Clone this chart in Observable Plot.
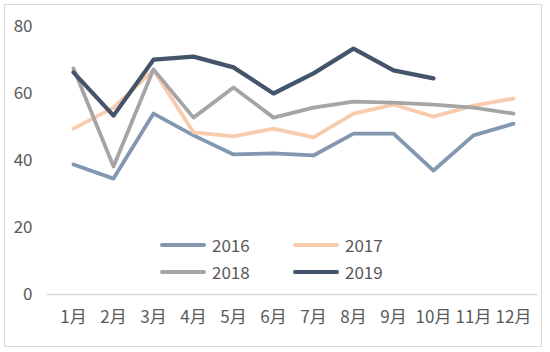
<!DOCTYPE html>
<html><head><meta charset="utf-8">
<script src="https://cdn.jsdelivr.net/npm/d3@7"></script>
<script src="https://cdn.jsdelivr.net/npm/@observablehq/plot@0.6"></script>
<style>
body{margin:0;background:#fff;}
#wrap{position:relative;width:550px;height:352px;font-family:"Noto Sans CJK SC","Noto Sans",sans-serif;}
#frame{position:absolute;left:4px;top:4px;width:538px;height:343px;border:1px solid #D9D9D9;box-sizing:border-box;}
#chart{position:absolute;left:0;top:0;}
.leg{position:absolute;display:flex;align-items:center;font-size:17px;color:#595959;line-height:20px;}
.leg span.sw{display:inline-block;width:46px;height:4px;border-radius:2px;margin-right:6px;}
</style></head>
<body><div id="wrap"><div id="frame"></div><div id="chart"></div><div id="legend"></div></div>
<script>
const months = ["1月","2月","3月","4月","5月","6月","7月","8月","9月","10月","11月","12月"];
const series = ["2016","2017","2018","2019"];
const colors = ["#8497B0","#F8CBAD","#A5A5A5","#44546A"];
const v2016 = [38.8,34.6,54.0,47.5,41.8,42.1,41.5,48.0,48.0,37.0,47.5,51.0];
const v2017 = [49.5,55.8,67.0,48.4,47.2,49.5,46.9,54.0,56.7,53.1,56.4,58.5];
const v2018 = [67.5,38.2,67.2,52.8,61.8,52.8,55.8,57.6,57.3,56.7,55.8,54.0];
const v2019 = [66.3,53.4,70.1,71.0,67.8,60.0,66.0,73.4,66.9,64.5];
const yTicks = [0,20,40,60,80];

const all = [v2016,v2017,v2018,v2019];
const rows = [];
series.forEach((s,i)=>all[i].forEach((v,j)=>rows.push({month:months[j],value:v,series:s})));

const chart = Plot.plot({
  width:550,height:352,
  marginTop:26,marginBottom:58,marginLeft:47,marginRight:12,
  style:{fontFamily:"'Noto Sans CJK SC','Noto Sans',sans-serif",fontSize:"17px",color:"#595959",background:"transparent"},
  x:{type:"point",domain:months,padding:0.5,label:null},
  y:{domain:[0,80],ticks:yTicks,label:null},
  color:{domain:series,range:colors},
  marks:[
    Plot.ruleY([0],{stroke:"#D9D9D9",strokeWidth:1.5}),
    Plot.axisY({ticks:yTicks,tickSize:0,tickPadding:15,label:null,fill:"#595959",fontSize:17}),
    Plot.axisX({tickSize:0,tickPadding:16,label:null,fill:"#595959",fontSize:17}),
    Plot.lineY(rows,{x:"month",y:"value",z:"series",stroke:"series",strokeWidth:d=>d.series==="2019"?4.2:3.8,strokeLinejoin:"round",strokeLinecap:"round"})
  ]
});
document.getElementById("chart").appendChild(chart);

const legPos = [[160,235],[293,235],[160,262],[293,262]];
const leg = document.getElementById("legend");
series.forEach((s,i)=>{
  const d=document.createElement("div");
  d.className="leg";
  d.style.left=legPos[i][0]+"px";d.style.top=legPos[i][1]+"px";
  d.innerHTML=`<span class="sw" style="background:${colors[i]}"></span>${s}`;
  leg.appendChild(d);
});
</script></body></html>
